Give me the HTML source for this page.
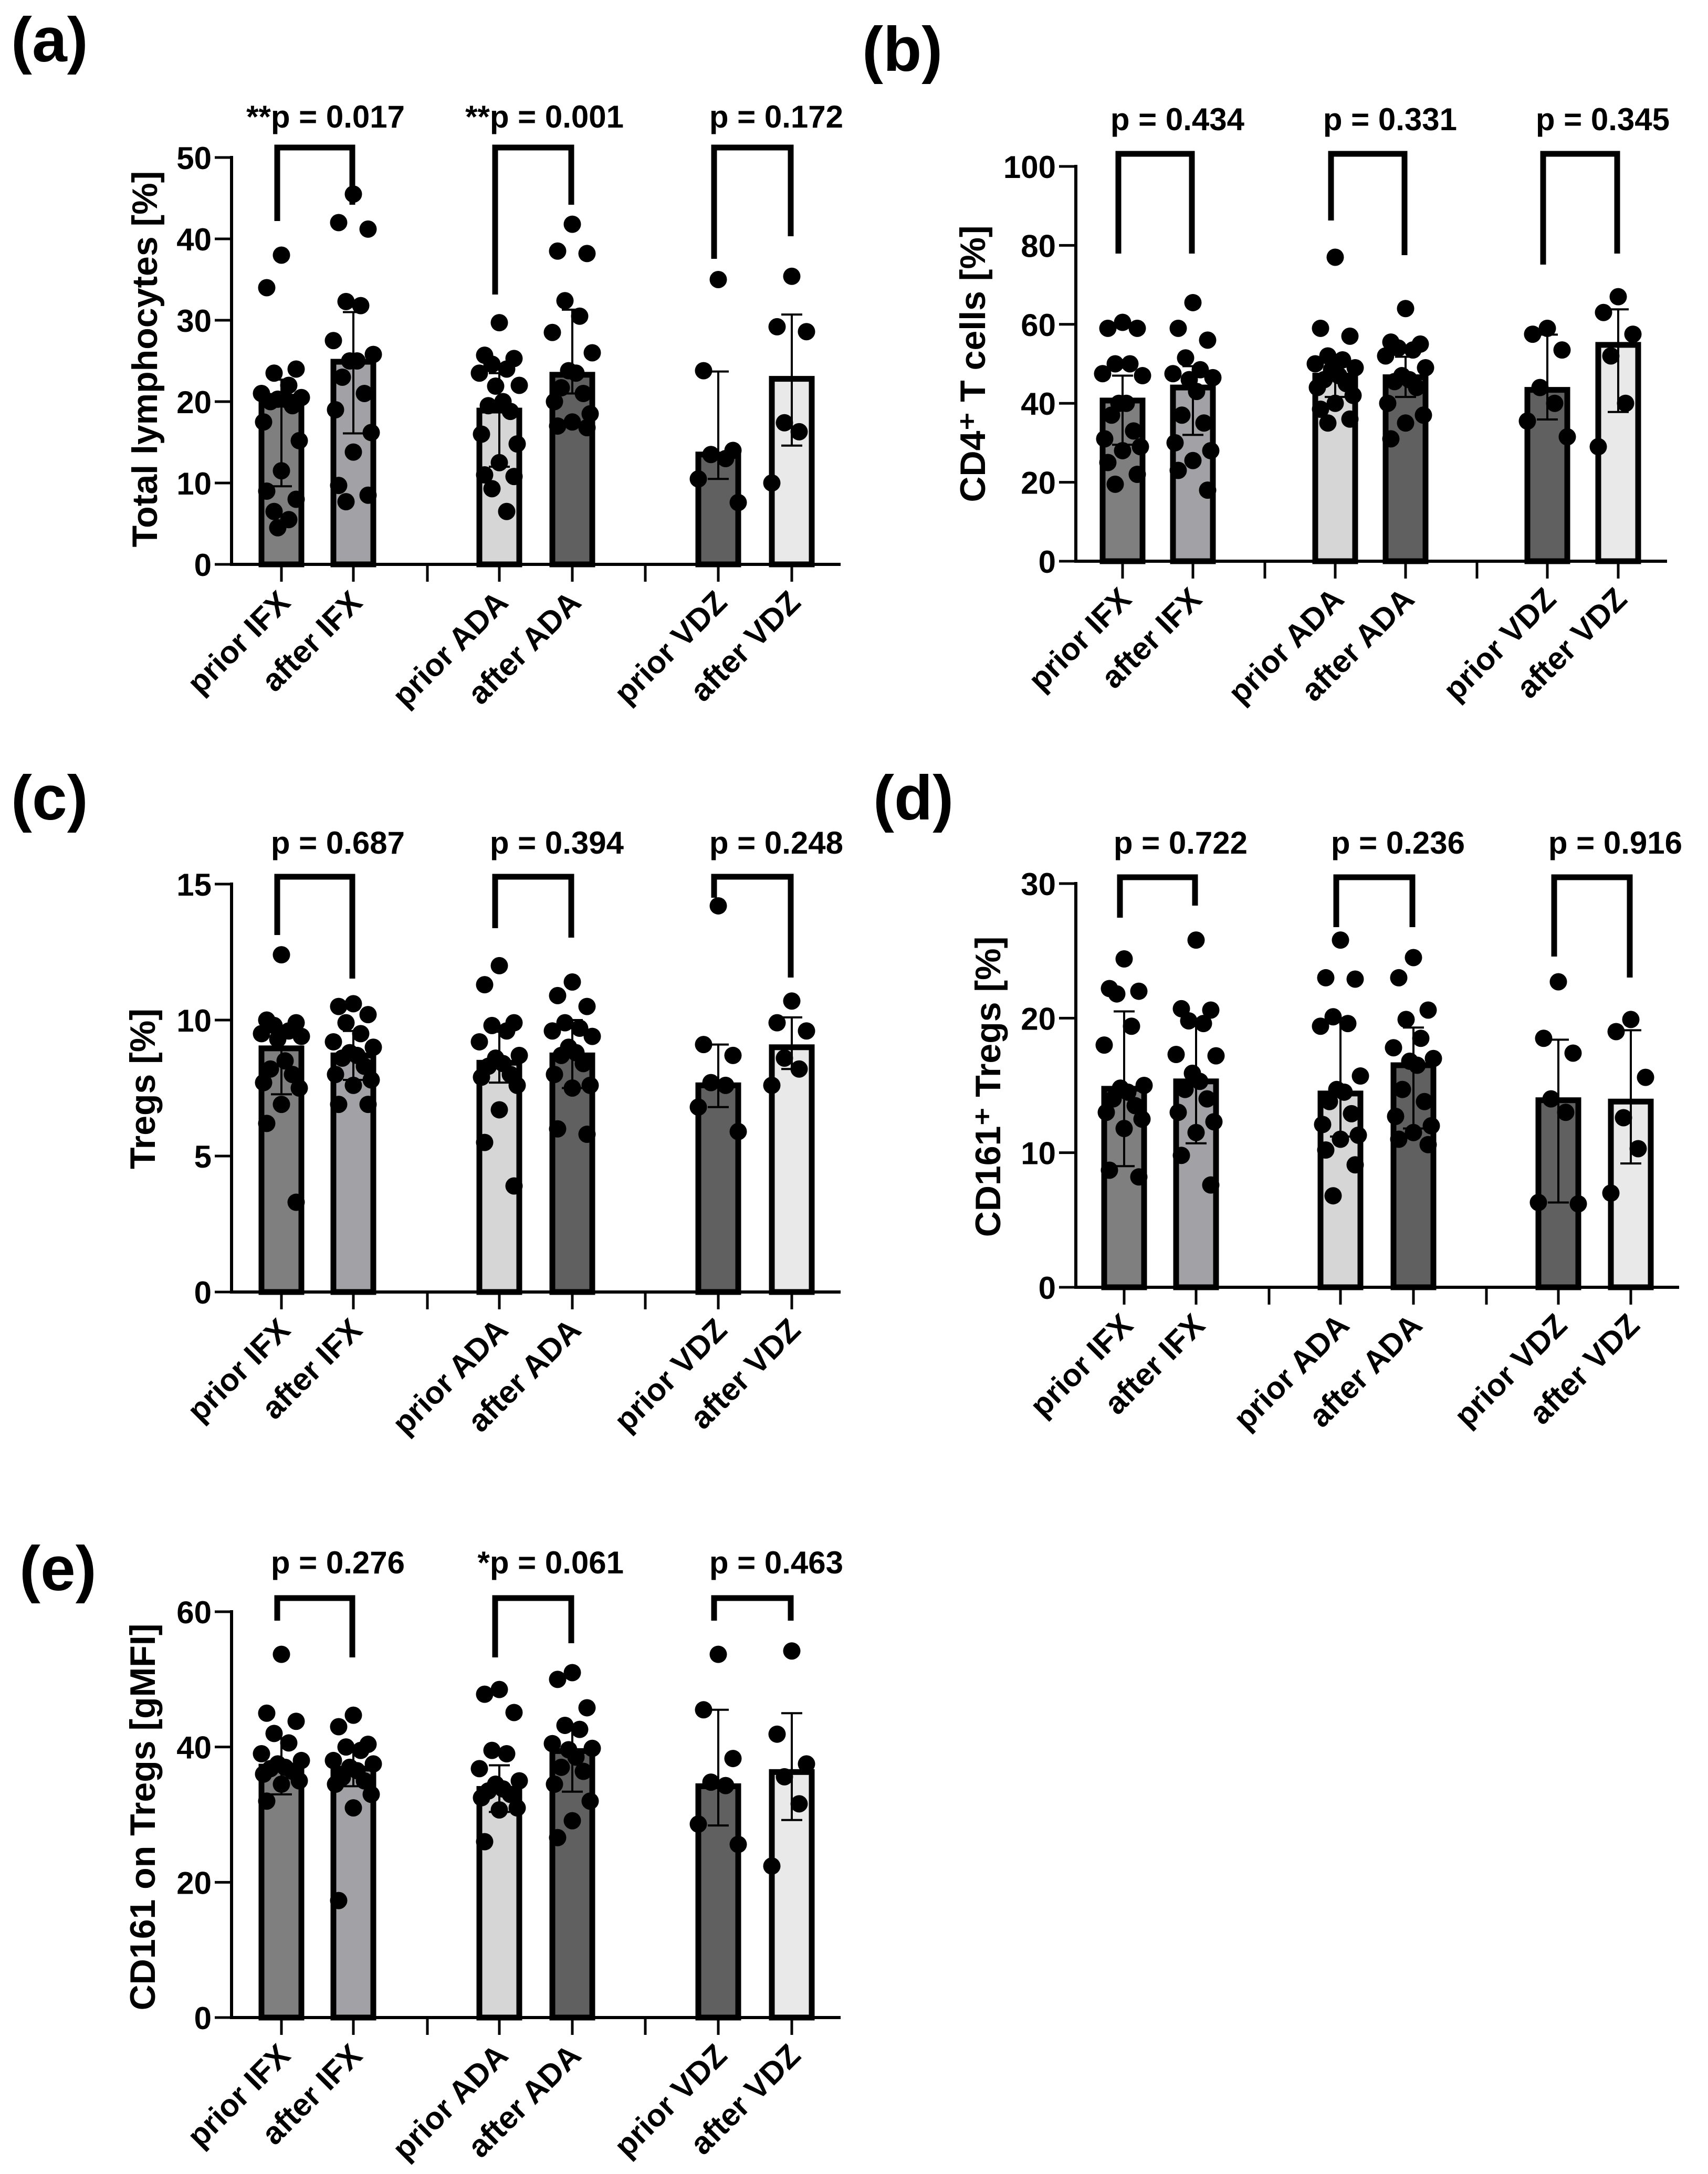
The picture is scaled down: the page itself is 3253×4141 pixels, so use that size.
<!DOCTYPE html>
<html><head><meta charset="utf-8"><style>
html,body{margin:0;padding:0;background:#fff;}
svg{display:block;}
text{font-family:"Liberation Sans Narrow","Liberation Sans",sans-serif;font-weight:bold;fill:#000;}
</style></head><body>
<svg id="fig" xmlns="http://www.w3.org/2000/svg" width="3253" height="4141" viewBox="0 0 3253 4141">
<rect x="0" y="0" width="3253" height="4141" fill="#fff"/>
</svg>
<script>
var categories = ["prior IFX","after IFX","prior ADA","after ADA","prior VDZ","after VDZ"];
var barColors = ["#7f7f7f","#a2a2a6","#d6d6d6","#606060","#606060","#e9e9e9"];

// Panel a
var aMeans = [20.6,24.9,18.9,23.3,13.5,22.8];
var aErrLo = [9.6,16.1,12.0,21.0,10.5,14.6];
var aErrHi = [22.7,31.0,23.5,31.3,23.7,30.7];
var aPoints = [
 [38,34,24,23.5,22,21,20.5,20.3,20.3,20,19.5,17.5,15.2,11.5,9,8,6.5,5.5,4.5],
 [45.5,42,41.2,32.3,31.8,27.5,25.8,25,25,23,21,19,16.2,13.8,9.7,8.5,7.7],
 [29.7,25.7,25.3,24.6,24,23.5,22,21.9,20,19.5,18.8,16,14.8,12.5,11,10.8,9.3,6.5],
 [41.8,38.5,38.2,32.4,30.5,28.5,26,23.8,23.5,21.7,21,20,18.5,17.5,17,16.8],
 [35,23.8,14,13.5,13,10.5,7.6],
 [35.4,29.2,28.6,17.4,16.3,10]];
var aPvals = ["**p = 0.017","**p = 0.001","p = 0.172"];
var aTicks = [0,10,20,30,40,50];

// Panel b
var bMeans = [40.7,44.0,47.0,46.6,43.4,54.8];
var bErrLo = [29.5,32.0,41.6,41.6,35.9,37.8];
var bErrHi = [47.0,49.4,52.0,51.8,57.4,63.8];
var bPoints = [
 [60.5,59,59,50,50,47.5,47,40,40,37,33,31,29,28,25,22,19.5],
 [65.5,59,56,51.5,48.5,47.5,46.5,46,43,37,35,30,28,25.5,23,18],
 [77,59,57,52,51,50,49,48.5,47,46,45,44,42,40,38.5,36,35],
 [64,55.5,55,54,53.5,52,49,47,46,45.5,44,40,37,35,31],
 [59,57.5,53.5,44,40,35.5,31.5],
 [67,63,57.5,52,40,29]];
var bPvals = ["p = 0.434","p = 0.331","p = 0.345"];
var bTicks = [0,20,40,60,80,100];

// Panel c
var cMeans = [8.96,8.7,8.43,8.7,7.6,9.0];
var cErrLo = [7.27,7.8,7.7,7.5,6.8,8.2];
var cErrHi = [9.57,9.6,9.57,10.0,9.1,10.1];
var cPoints = [
 [12.4,10,9.9,9.8,9.6,9.5,9.4,9.3,8.5,8.2,8,7.7,7.5,6.9,6.2,3.3],
 [10.6,10.5,10.2,9.9,9.5,9.2,9,8.8,8.7,8.6,8.3,8,7.8,7.6,6.9,6.9],
 [12,11.3,9.9,9.8,9.6,9.2,8.7,8.6,8.4,8.3,8,7.9,7.6,6.7,5.5,3.9],
 [11.4,10.9,10.5,9.9,9.7,9.6,9.4,9,8.8,8.7,8.4,8,7.6,7.5,6,5.8],
 [14.2,9.1,8.7,7.7,7.6,6.8,5.9],
 [10.7,9.9,9.6,8.6,8.2,7.6]];
var cPvals = ["p = 0.687","p = 0.394","p = 0.248"];
var cTicks = [0,5,10,15];

// Panel d
var dMeans = [14.75,15.3,14.4,16.5,13.9,13.8];
var dErrLo = [9.0,10.7,11.2,11.8,6.3,9.2];
var dErrHi = [20.5,19.9,19.9,19.3,18.4,19.1];
var dPoints = [
 [24.4,22.2,22,21.8,19.4,18,15,14.8,14.5,14,13.5,13,12.5,11.8,8.7,8.2],
 [25.8,20.7,20.6,19.8,19.6,17.3,17.2,15.9,15.3,14.7,14,13,12.3,11.5,9.8,7.6],
 [25.8,23,22.9,20.1,19.6,19.4,15.7,14.7,14.5,13.8,12.9,12.1,11.3,11,10.2,9.1,6.8],
 [24.5,23,20.6,19.9,18.5,17.8,17,16.8,16.5,14.7,13.8,12.7,12,11.5,11,10.6],
 [22.7,18.5,17.4,14,13,6.3,6.2],
 [19.9,19,15.6,12.6,10.3,7]];
var dPvals = ["p = 0.722","p = 0.236","p = 0.916"];
var dTicks = [0,10,20,30];

// Panel e
var eMeans = [37.1,36.8,33.8,39.4,34.2,36.3];
var eErrLo = [33.0,34.2,30.4,33.4,28.4,29.2];
var eErrHi = [41.3,39.6,37.3,42.8,45.5,45.0];
var ePoints = [
 [53.7,45,43.8,42,40.6,39,38,37.5,37,36.8,36.4,36,35,34.5,32],
 [44.7,43,40.4,40,39.5,38,37.5,37,36.5,35.5,35,34.5,33,31,17.3],
 [48.5,47.8,45.1,39.5,39,36.8,35,34.5,33.8,33.5,33,32.5,31,30.7,26],
 [51,50,45.8,43.2,42.6,40.5,39.8,39.6,38.5,37,36.4,34.5,32,29.1,26.6],
 [53.7,45.5,38.3,34.8,34.3,28.6,25.6],
 [54.2,41.9,37.5,35.6,31.6,22.4]];
var ePvals = ["p = 0.276","*p = 0.061","p = 0.463"];
var eTicks = [0,20,40,60];

var NS = "http://www.w3.org/2000/svg";
var svg = document.getElementById("fig");
function mk(tag, attrs, parent){
  var e = document.createElementNS(NS, tag);
  for (var k in attrs) e.setAttribute(k, attrs[k]);
  (parent||svg).appendChild(e);
  return e;
}

var panels = [
 {id:"a", means:aMeans, lo:aErrLo, hi:aErrHi, pts:aPoints, pv:aPvals, ticks:aTicks,
  ax:441, y0:1075, ytop:300, cats:[536,673,951,1090,1368,1508], gaps:[814,1229], xend:1601,
  lx:21, ly:117, pby:243, brTop:281, legs:[[421,390],[561,390],[493,450]],
  title:"Total lymphocytes [%]", tx:275, ty:684},
 {id:"b", means:bMeans, lo:bErrLo, hi:bErrHi, pts:bPoints, pv:bPvals, ticks:bTicks,
  ax:2049, y0:1069, ytop:317, cats:[2138,2272,2543,2677,2947,3082], gaps:[2409,2813], xend:3175,
  lx:1642, ly:135, pby:248, brTop:293, legs:[[483,483],[420,486],[504,483]],
  title:"CD4\u207A T cells [%]", tx:1852, ty:693},
 {id:"c", means:cMeans, lo:cErrLo, hi:cErrHi, pts:cPoints, pv:cPvals, ticks:cTicks,
  ax:441, y0:2461, ytop:1684, cats:[536,673,951,1090,1368,1508], gaps:[814,1229], xend:1601,
  lx:21, ly:1561, pby:1626, brTop:1670, legs:[[1781,1864],[1768,1786],[1710,1862]],
  title:"Tregs [%]", tx:271, ty:2074},
 {id:"d", means:dMeans, lo:dErrLo, hi:dErrHi, pts:dPoints, pv:dPvals, ticks:dTicks,
  ax:2049, y0:2452, ytop:1683, cats:[2141,2278,2553,2692,2968,3106], gaps:[2417,2831], xend:3198,
  lx:1663, ly:1561, pby:1626, brTop:1671, legs:[[1748,1725],[1766,1766],[1822,1862]],
  title:"CD161\u207A Tregs [%]", tx:1881, ty:2070},
 {id:"e", means:eMeans, lo:eErrLo, hi:eErrHi, pts:ePoints, pv:ePvals, ticks:eTicks,
  ax:441, y0:3843, ytop:3070, cats:[536,673,951,1090,1368,1508], gaps:[814,1229], xend:1601,
  lx:37, ly:3029, pby:2997, brTop:3044, legs:[[3087,3157],[3157,3130],[3087,3087]],
  title:"CD161 on Tregs [gMFI]", tx:271, ty:3461}
];
var jitter = [0,-28,28,-14,14,-38,38,-7,7,-21,21,-34,34,0,-28,28,-14,14,-7];

panels.forEach(function(P){
  var g = mk("g", {});
  
  
  var tmax = P.ticks[P.ticks.length-1];
  function Y(v){ return P.y0 - (v / tmax) * (P.y0 - P.ytop); }

  var lab = mk("text", {x:P.lx, y:P.ly, "font-size":120}, g);
  lab.textContent = "(" + P.id + ")";
  
  

  P.cats.forEach(function(cx, i){
    var top = Y(P.means[i]);
    var r = mk("rect", {x:cx-38, y:top, width:76, height:P.y0-top, fill:barColors[i], stroke:"#000", "stroke-width":11}, g);
    
    
  });
  P.cats.forEach(function(cx, i){
    P.pts[i].forEach(function(v, j){
      var c = mk("circle", {cx:cx + jitter[j % jitter.length], cy:Y(v), r:16.5, fill:"#000"}, g);
      
      
    });
  });
  P.cats.forEach(function(cx, i){
    var yl = Y(P.lo[i]), yh = Y(P.hi[i]);
    var eg = mk("g", {stroke:"#000", "stroke-width":4}, g);
    
    
    mk("line", {x1:cx, y1:yl, x2:cx, y2:yh}, eg);
    mk("line", {x1:cx-20, y1:yh, x2:cx+20, y2:yh}, eg);
    mk("line", {x1:cx-20, y1:yl, x2:cx+20, y2:yl}, eg);
  });
  var yax = mk("line", {x1:P.ax, y1:P.ytop-3, x2:P.ax, y2:P.y0+3, stroke:"#000", "stroke-width":6}, g);
  
  
  var xax = mk("line", {x1:P.ax-3, y1:P.y0, x2:P.xend, y2:P.y0, stroke:"#000", "stroke-width":6}, g);
  
  
  P.ticks.forEach(function(t){
    var y = Y(t);
    mk("line", {x1:P.ax-32, y1:y, x2:P.ax, y2:y, stroke:"#000", "stroke-width":5}, g);
    var tl = mk("text", {x:P.ax-38, y:y+22, "font-size":60, "text-anchor":"end"}, g);
    tl.textContent = t;
    
    
  });
  P.cats.concat(P.gaps).forEach(function(cx){
    mk("line", {x1:cx, y1:P.y0, x2:cx, y2:P.y0+33, stroke:"#000", "stroke-width":5}, g);
  });
  P.cats.forEach(function(cx, i){
    var lx = cx+20, ly = P.y0+76;
    var xl = mk("text", {x:lx, y:ly, "font-size":60, "text-anchor":"end",
      transform:"rotate(-45 " + lx + " " + ly + ")"}, g);
    xl.textContent = categories[i];
    
    
  });
  var yt = mk("text", {x:P.tx, y:P.ty, "font-size":68, "text-anchor":"middle",
    transform:"rotate(-90 " + P.tx + " " + P.ty + ")", dy:"24"}, g);
  yt.textContent = P.title;
  
  
  for (var k = 0; k < 3; k++){
    var xL = P.cats[2*k] - 8, xR = P.cats[2*k+1] - 2;
    var br = mk("polyline", {points: xL + "," + P.legs[k][0] + " " + xL + "," + P.brTop + " " + xR + "," + P.brTop + " " + xR + "," + P.legs[k][1],
      fill:"none", stroke:"#000", "stroke-width":11}, g);
    
    
    var pt = mk("text", {x:xR + 100, y:P.pby, "font-size":60, "text-anchor":"end"}, g);
    pt.textContent = P.pv[k];
    
    
  }
});
</script>
</body></html>
